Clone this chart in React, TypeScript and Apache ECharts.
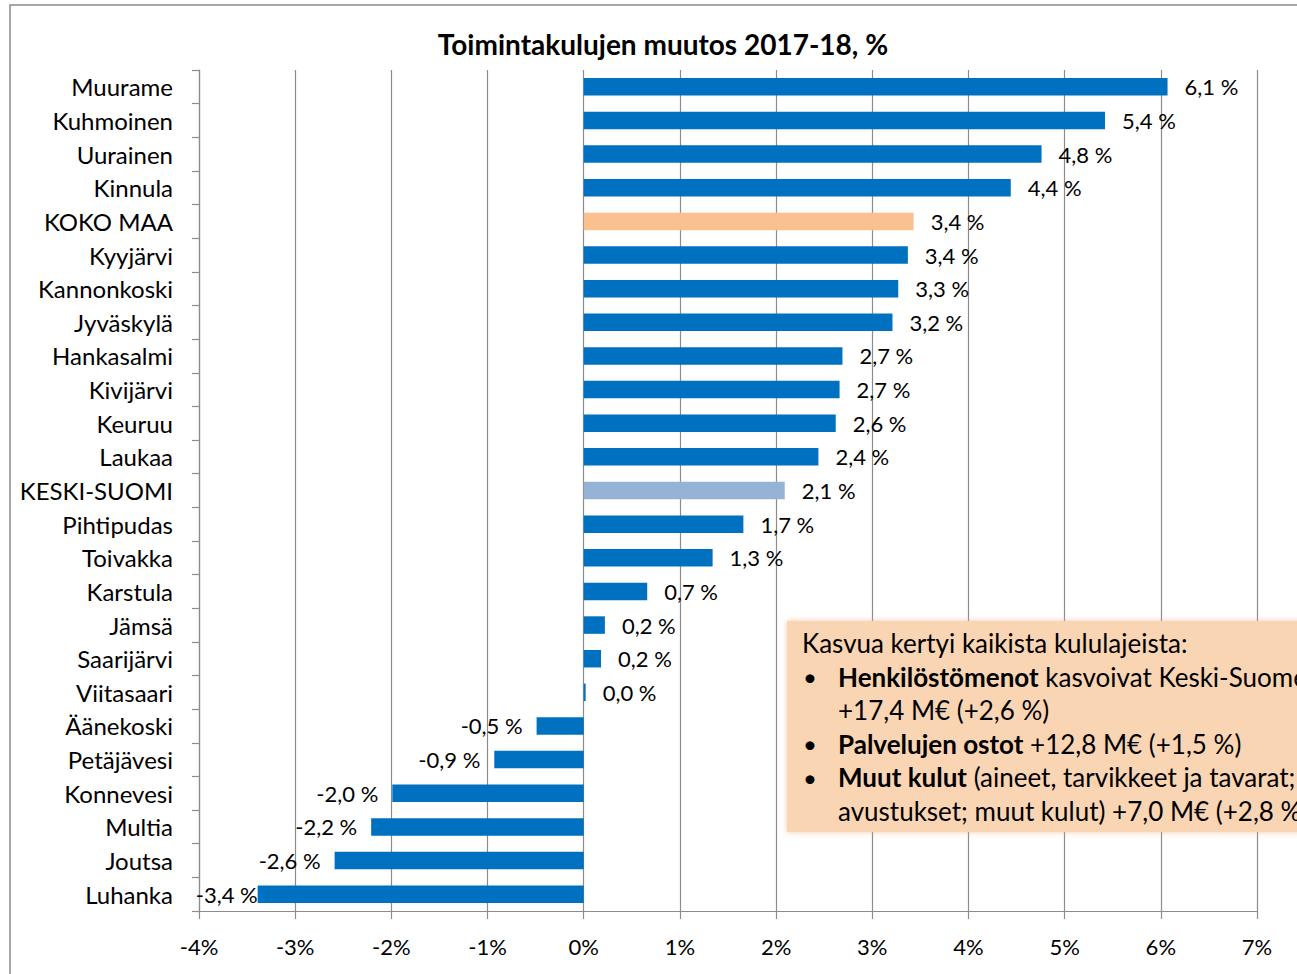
import React, { useEffect, useRef } from "react";
import * as echarts from "echarts";

const categories = [
  "Muurame", "Kuhmoinen", "Uurainen", "Kinnula", "KOKO MAA", "Kyyjärvi", "Kannonkoski",
  "Jyväskylä", "Hankasalmi", "Kivijärvi", "Keuruu", "Laukaa", "KESKI-SUOMI", "Pihtipudas",
  "Toivakka", "Karstula", "Jämsä", "Saarijärvi", "Viitasaari", "Äänekoski", "Petäjävesi",
  "Konnevesi", "Multia", "Joutsa", "Luhanka",
];
const values = [
  6.07, 5.42, 4.76, 4.44, 3.43, 3.37, 3.27, 3.21, 2.69, 2.66, 2.62, 2.44, 2.09, 1.66,
  1.34, 0.66, 0.22, 0.18, 0.02, -0.49, -0.93, -1.99, -2.21, -2.59, -3.39,
];
const xTicks = { min: -4, max: 7, interval: 1 };
const specialColors: Record<string, string> = { "KOKO MAA": "#FAC090", "KESKI-SUOMI": "#95B3D7" };
const clampedLabels = ["Luhanka"];
const titleText = "Toimintakulujen muutos 2017-18, %";
const noteLines = [
  "Kasvua kertyi kaikista kululajeista:",
  "{b|Henkilöstömenot} kasvoivat Keski-Suomessa",
  "+17,4 M€ (+2,6 %)",
  "{b|Palvelujen ostot} +12,8 M€ (+1,5 %)",
  "{b|Muut kulut} (aineet, tarvikkeet ja tavarat;",
  "avustukset; muut kulut) +7,0 M€ (+2,8 %)",
];
const noteBullets = [false, true, false, true, true, false];

const FONT = "Lato, 'Noto Sans', sans-serif";
const BLUE = "#0070C0";
const GRID = "#8C8C8C";

export default function App() {
  const ref = useRef<HTMLDivElement>(null);
  useEffect(() => {
    document.body.style.margin = "0";
    const chart = echarts.init(ref.current!, null, { renderer: "svg" });
    const data = categories.map((c, i) => {
      const v = values[i];
      const item: any = { value: v, itemStyle: { color: specialColors[c] || BLUE } };
      item.label = {
        position: v < 0 ? "left" : "right",
        distance: clampedLabels.includes(c) ? 0 : v < 0 ? 14 : 17,
      };
      return item;
    });
    const graphics: any[] = [
      {
        type: "rect",
        shape: { x: 10, y: 5, width: 1400, height: 1100 },
        style: { fill: "none", stroke: "#8a8a8a", lineWidth: 1.5 },
        z: -10,
        silent: true,
      },
      {
        type: "rect",
        shape: { x: 787, y: 621, width: 620, height: 211 },
        style: { fill: "#FAD5B4", shadowBlur: 6, shadowColor: "rgba(230,170,120,0.6)" },
        z: 100,
      },
    ];
    noteLines.forEach((t, i) => {
      const y = 643 + i * 33.6;
      const indent = i === 0 ? 802 : 838;
      if (noteBullets[i]) {
        graphics.push({
          type: "text",
          x: 803,
          y,
          z: 101,
          style: { text: "•", fontFamily: FONT, fontSize: 24, fill: "#000", verticalAlign: "middle" },
        });
      }
      graphics.push({
        type: "text",
        x: indent,
        y,
        z: 101,
        style: {
          text: t,
          fontFamily: FONT,
          fontSize: 26,
          fill: "#000",
          verticalAlign: "middle",
          rich: { b: { fontWeight: "bold", fontFamily: FONT, fontSize: 26, fill: "#000" } },
        },
      });
    });
    chart.setOption({
      animation: false,
      backgroundColor: "#fff",
      title: {
        text: titleText,
        left: 658,
        top: 25,
        textAlign: "center",
        textStyle: { fontFamily: FONT, fontSize: 28, fontWeight: "bold", color: "#000" },
      },
      grid: { left: 199, right: 40, top: 70, bottom: 63 },
      xAxis: {
        type: "value",
        min: xTicks.min,
        max: xTicks.max,
        interval: xTicks.interval,
        axisLine: { show: true, lineStyle: { color: GRID, width: 1.2 } },
        axisTick: { show: true, length: 8, lineStyle: { color: GRID, width: 1.2 } },
        splitLine: { show: true, lineStyle: { color: GRID, width: 1.2 } },
        axisLabel: {
          formatter: (v: number) => `${v}%`,
          fontFamily: FONT,
          fontSize: 22,
          color: "#000",
          margin: 24,
        },
      },
      yAxis: [
        {
          type: "category",
          data: categories,
          inverse: true,
          axisLine: { show: false },
          axisTick: { show: false },
          axisLabel: { fontFamily: FONT, fontSize: 24, color: "#000", margin: 26 },
        },
        {
          type: "category",
          data: categories,
          inverse: true,
          position: "left",
          axisLine: { show: true, onZero: true, lineStyle: { color: GRID, width: 1.2 } },
          axisTick: { show: true, length: 7, lineStyle: { color: GRID, width: 1.2 } },
          axisLabel: { show: false },
        },
      ],
      series: [
        {
          type: "bar",
          yAxisIndex: 0,
          data,
          barWidth: "52%",
          label: {
            show: true,
            fontFamily: FONT,
            fontSize: 22,
            color: "#000",
            formatter: (p: any) => `${p.value.toFixed(1).replace(".", ",")} %`,
          },
        },
      ],
      graphic: graphics,
    });
    return () => chart.dispose();
  }, []);
  return (
    <div
      ref={ref}
      style={{ position: "absolute", left: 0, top: 0, width: 1297, height: 974, overflow: "hidden" }}
    />
  );
}
